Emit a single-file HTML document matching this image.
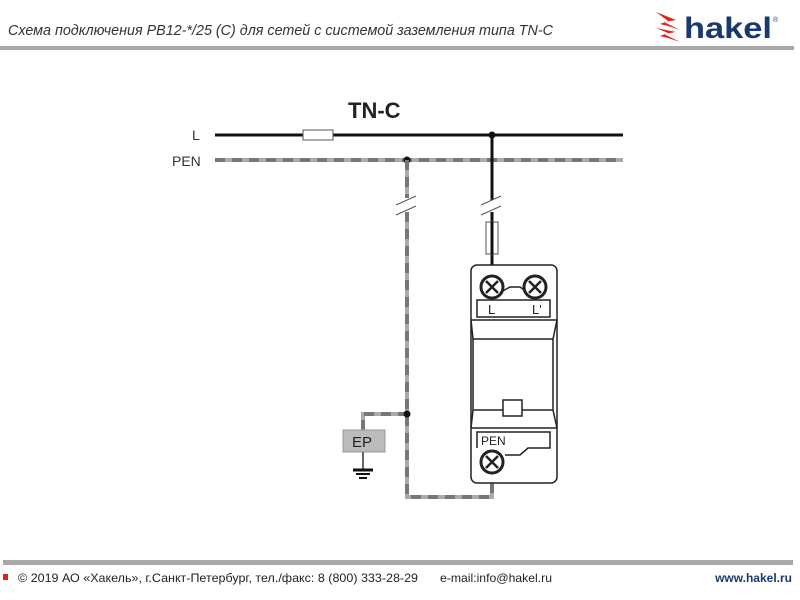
<!DOCTYPE html>
<html><head><meta charset="utf-8"><style>
body{margin:0;width:800px;height:600px;background:#fff;overflow:hidden;font-family:"Liberation Sans",sans-serif}
</style></head><body>
<svg width="800" height="600" xmlns="http://www.w3.org/2000/svg" style="position:absolute;left:0;top:0">
<text x="8" y="35" font-family="Liberation Sans, sans-serif" font-style="italic" font-size="15" fill="#333" textLength="545" lengthAdjust="spacingAndGlyphs">Схема подключения PB12-*/25 (C) для сетей с системой заземления типа TN-C</text>
<g fill="#e2231a">
<polygon points="656,12 676,20 664,22 680,30 668,26 660,24 668,21"/>
<polygon points="656,28 676,32 664,34 680,42 668,38 660,36 668,33"/>
</g>
<text x="684" y="38" font-family="Liberation Sans, sans-serif" font-weight="bold" font-size="30" fill="#1a3a6e" textLength="88" lengthAdjust="spacingAndGlyphs">hakel</text>
<text x="773" y="22" font-size="7" fill="#1a3a6e">®</text>
<rect x="0" y="46" width="794" height="4" fill="#a8a8a8"/>
<text x="348" y="118" font-weight="bold" font-size="22" fill="#222">TN-C</text>
<text x="192" y="140" font-size="14" fill="#333">L</text>
<text x="172" y="166" font-size="14" fill="#333">PEN</text>
<line x1="215" y1="135" x2="623" y2="135" stroke="#111" stroke-width="3"/>
<rect x="303" y="130" width="30" height="10" fill="#fff" stroke="#555" stroke-width="1"/>
<line x1="215" y1="160" x2="623" y2="160" stroke="#aaa" stroke-width="4"/>
<line x1="215" y1="160" x2="623" y2="160" stroke="#777" stroke-width="4" stroke-dasharray="10,7"/>
<circle cx="492" cy="135" r="3.5" fill="#111"/>
<circle cx="407" cy="160" r="3.5" fill="#111"/>
<line x1="492" y1="135" x2="492" y2="200" stroke="#111" stroke-width="3"/>
<line x1="492" y1="212" x2="492" y2="265" stroke="#111" stroke-width="3"/>
<line x1="481" y1="205" x2="501" y2="196" stroke="#555" stroke-width="1"/>
<line x1="481" y1="215" x2="501" y2="206" stroke="#555" stroke-width="1"/>
<rect x="486" y="222" width="12" height="32" fill="#fff" stroke="#555" stroke-width="1"/>
<line x1="492" y1="222" x2="492" y2="254" stroke="#111" stroke-width="3"/>
<g stroke-width="4">
<line x1="407" y1="160" x2="407" y2="198" stroke="#aaa"/>
<line x1="407" y1="160" x2="407" y2="198" stroke="#777" stroke-dasharray="10,7"/>
<polyline points="407,212 407,497 492,497 492,483" fill="none" stroke="#aaa"/>
<polyline points="407,212 407,497 492,497 492,483" fill="none" stroke="#777" stroke-dasharray="10,7"/>
<polyline points="363,430 363,414 407,414" fill="none" stroke="#aaa"/>
<polyline points="363,430 363,414 407,414" fill="none" stroke="#777" stroke-dasharray="10,7"/>
</g>
<line x1="396" y1="205" x2="416" y2="196" stroke="#555" stroke-width="1"/>
<line x1="396" y1="215" x2="416" y2="206" stroke="#555" stroke-width="1"/>
<circle cx="407" cy="414" r="3.5" fill="#111"/>
<rect x="343" y="430" width="42" height="22" fill="#bbb" stroke="#999" stroke-width="1"/>
<text x="352" y="447" font-size="15" fill="#222">EP</text>
<line x1="363" y1="452" x2="363" y2="469" stroke="#666" stroke-width="2"/>
<line x1="353" y1="470" x2="373" y2="470" stroke="#111" stroke-width="3"/>
<line x1="356" y1="474" x2="370" y2="474" stroke="#111" stroke-width="2"/>
<line x1="359" y1="478" x2="367" y2="478" stroke="#111" stroke-width="2"/>
<g fill="none" stroke="#222" stroke-width="1.5">
<rect x="471" y="265" width="86" height="218" rx="6" fill="#fff"/>
<path d="M501,292 L510,287 L520,287 L527,292"/>
<rect x="477" y="300" width="73" height="17"/>
<line x1="471" y1="320" x2="557" y2="320"/>
<line x1="473" y1="339" x2="553" y2="339"/>
<line x1="471" y1="320" x2="473" y2="339"/>
<line x1="557" y1="320" x2="553" y2="339"/>
<line x1="473" y1="339" x2="473" y2="410"/>
<line x1="553" y1="339" x2="553" y2="410"/>
<line x1="473" y1="410" x2="553" y2="410"/>
<line x1="473" y1="410" x2="471" y2="428"/>
<line x1="553" y1="410" x2="557" y2="428"/>
<line x1="471" y1="428" x2="557" y2="428"/>
<rect x="503" y="400" width="19" height="16" fill="#fff"/>
<path d="M477,448 L477,432 L550,432 L550,448 L528,448 L520,455 L505,455"/>
</g>
<g stroke="#222">
<circle cx="492" cy="287" r="11" fill="#fff" stroke-width="3"/>
<circle cx="535" cy="287" r="11" fill="#fff" stroke-width="3"/>
<circle cx="492" cy="462" r="11" fill="#fff" stroke-width="3"/>
<g stroke-width="2.5">
<path d="M486,281 L498,293 M498,281 L486,293"/>
<path d="M529,281 L541,293 M541,281 L529,293"/>
<path d="M486,456 L498,468 M498,456 L486,468"/>
</g>
</g>
<text x="488" y="314" font-size="13" fill="#222">L</text>
<text x="532" y="314" font-size="13" fill="#222">L'</text>
<text x="481" y="445" font-size="12" fill="#222">PEN</text>
<rect x="3" y="560" width="790" height="5" fill="#a8a8a8"/>
<rect x="3" y="574" width="5" height="6" fill="#e2231a"/>
<text x="18" y="582" font-size="12" fill="#222" textLength="400" lengthAdjust="spacingAndGlyphs">© 2019 АО «Хакель», г.Санкт-Петербург, тел./факс: 8 (800) 333-28-29</text>
<text x="440" y="582" font-size="12" fill="#222" textLength="112" lengthAdjust="spacingAndGlyphs">e-mail:info@hakel.ru</text>
<text x="792" y="582" text-anchor="end" font-weight="bold" font-size="12" fill="#1a3a6e">www.hakel.ru</text>
</svg>
</body></html>
